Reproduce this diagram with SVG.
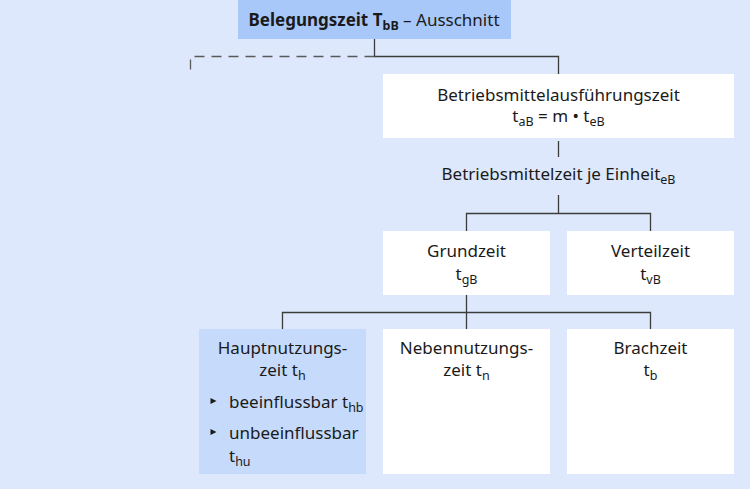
<svg xmlns="http://www.w3.org/2000/svg" width="750" height="489" viewBox="0 0 750 489">
<style>
  text { font-family: "Noto Sans", "Open Sans", sans-serif; font-size: 17px; fill: #1a1a1a; }
  .c { text-anchor: middle; }
  .sub { font-size: 12.5px; }
  .box { fill: #ffffff; }
  .line { fill: none; stroke: #3c3c3c; stroke-width: 1.3; }
  .dash { fill: none; stroke: #5a5a5a; stroke-width: 1.3; stroke-dasharray: 10 7; }
  .bullet { fill: #1a1a1a; }
</style>
<rect x="0" y="0" width="750" height="489" fill="#dde8fc"/>

<g id="connectors">
  <path class="line" d="M374.5 39 V56.5 H558.5 V74"/>
  <path class="dash" d="M374.5 56.5 H190.5 V75"/>
  <path class="line" d="M558.5 141 V157"/>
  <path class="line" d="M558.5 195 V213.5 M466.5 231 V213.5 H650.5 V231"/>
  <path class="line" d="M466.5 295 V329 M282.5 329 V312.5 H650.5 V329"/>
</g>

<g id="title">
  <rect x="238" y="0" width="273" height="39" fill="#a9c8fa"/>
  <text class="c" x="374" y="26"><tspan font-weight="bold">Belegungszeit T<tspan class="sub" dy="4">bB</tspan></tspan><tspan dy="-4"> – Ausschnitt</tspan></text>
</g>

<g id="betriebsmittelausfuehrungszeit">
  <rect class="box" x="383" y="74" width="351" height="64"/>
  <text class="c" x="558.5" y="101">Betriebsmittelausführungszeit</text>
  <text class="c" x="558.5" y="122">t<tspan class="sub" dy="4">aB</tspan><tspan dy="-4"> = m • t</tspan><tspan class="sub" dy="4">eB</tspan></text>
</g>

<g id="betriebsmittelzeit">
  <text class="c" x="558.5" y="180">Betriebsmittelzeit je Einheit<tspan class="sub" dy="4">eB</tspan></text>
</g>

<g id="grundzeit">
  <rect class="box" x="383" y="231" width="167" height="64"/>
  <text class="c" x="466.5" y="257">Grundzeit</text>
  <text class="c" x="466.5" y="280">t<tspan class="sub" dy="4">gB</tspan></text>
</g>

<g id="verteilzeit">
  <rect class="box" x="567" y="231" width="167" height="64"/>
  <text class="c" x="650.5" y="257">Verteilzeit</text>
  <text class="c" x="650.5" y="280">t<tspan class="sub" dy="4">vB</tspan></text>
</g>

<g id="hauptnutzungszeit">
  <rect x="199" y="329" width="167" height="145" fill="#c6dafc"/>
  <text class="c" x="282.5" y="354">Hauptnutzungs-</text>
  <text class="c" x="282.5" y="376">zeit t<tspan class="sub" dy="4">h</tspan></text>
  <polygon class="bullet" points="210.5,398 216.5,401 210.5,404"/>
  <text x="229" y="408">beeinflussbar t<tspan class="sub" dy="4">hb</tspan></text>
  <polygon class="bullet" points="210.5,429 216.5,432 210.5,435"/>
  <text x="229" y="439">unbeeinflussbar</text>
  <text x="229" y="462">t<tspan class="sub" dy="4">hu</tspan></text>
</g>

<g id="nebennutzungszeit">
  <rect class="box" x="383" y="329" width="167" height="145"/>
  <text class="c" x="466.5" y="354">Nebennutzungs-</text>
  <text class="c" x="466.5" y="376">zeit t<tspan class="sub" dy="4">n</tspan></text>
</g>

<g id="brachzeit">
  <rect class="box" x="567" y="329" width="167" height="145"/>
  <text class="c" x="650.5" y="354">Brachzeit</text>
  <text class="c" x="650.5" y="376">t<tspan class="sub" dy="4">b</tspan></text>
</g>
</svg>
